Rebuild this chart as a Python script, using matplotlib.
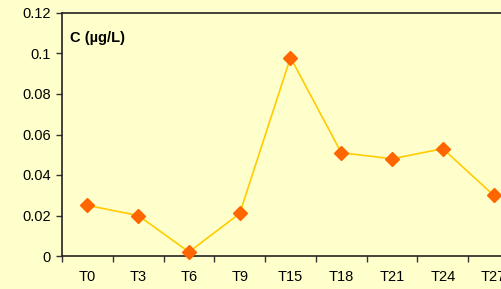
import matplotlib
matplotlib.use("Agg")
import matplotlib.pyplot as plt
import numpy as np

categories = ["T0", "T3", "T6", "T9", "T15", "T18", "T21", "T24", "T27"]
values = [0.025, 0.020, 0.002, 0.021, 0.098, 0.051, 0.048, 0.053, 0.030]
yticks = [0, 0.02, 0.04, 0.06, 0.08, 0.1, 0.12]
ytick_labels = ["0", "0.02", "0.04", "0.06", "0.08", "0.1", "0.12"]

plt.rcParams['font.family'] = ['Liberation Sans', 'DejaVu Sans']
W, H = 502, 289
fig = plt.figure(figsize=(W/100, H/100), dpi=100, facecolor='#FFFFCC')
left, right, top, bottom = 62, 519, 13, 256
ax = fig.add_axes([left/W, 1-bottom/H, (right-left)/W, (bottom-top)/H])
ax.set_facecolor('#FFFFCC')
x = np.arange(len(categories))
ax.plot(x, values, color='#FFCC00', lw=1.2, zorder=2)
ax.plot(x, values, ls='none', marker='D', ms=7, color='#FF6600', mec='#FF6600', zorder=3, clip_on=False)
ax.set_xlim(-0.5, len(categories)-0.5)
ax.set_ylim(0, 0.12)
ax.set_yticks(yticks)
ax.set_yticklabels(ytick_labels)
ax.set_xticks(np.arange(-0.5, len(categories)+0.5, 1.0))
ax.set_xticklabels([])
ax.set_xticks(x, minor=True)
ax.set_xticklabels(categories, minor=True)
ax.tick_params(axis='x', which='minor', length=0, pad=10, labelsize=10.5)
ax.tick_params(axis='x', which='major', length=4, width=1, color='#333333', direction='out')
ax.tick_params(axis='y', length=4, width=1, color='#333333', direction='out', labelsize=10.5, pad=4)
for s in ['left', 'bottom', 'top', 'right']:
    ax.spines[s].set_color('#222222')
    ax.spines[s].set_linewidth(1.2)
ax.text(70/W, 1-38/H, "C (µg/L)", transform=fig.transFigure, fontsize=10.5, fontweight='bold', va='center', ha='left')
fig.savefig('out.png', dpi=100, facecolor='#FFFFCC')
